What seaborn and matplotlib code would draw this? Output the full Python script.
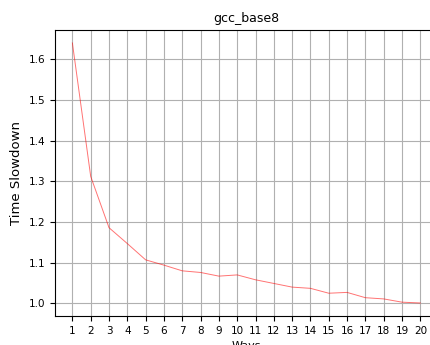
import pandas as pd
import matplotlib
matplotlib.use("Agg")
import matplotlib.pyplot as plt
import seaborn as sns

# dados
ways = list(range(1, 21))
slowdown = [1.640, 1.312, 1.186, 1.147, 1.107, 1.094, 1.080, 1.076, 1.067, 1.070,
            1.058, 1.049, 1.040, 1.037, 1.025, 1.027, 1.014, 1.011, 1.003, 1.001]

df = pd.DataFrame({"Ways": ways, "Time Slowdown": slowdown})

fig = plt.figure(figsize=(4.31, 3.45), dpi=100)
ax = fig.add_axes([0.1276, 0.0841, 0.888, 0.829])

sns.lineplot(data=df, x="Ways", y="Time Slowdown", ax=ax, color="red", alpha=0.55, linewidth=0.7)

ax.set_xticks(ways)
ax.tick_params(labelsize=7.5)
ax.grid(True, color="#b0b0b0", linewidth=0.8)
ax.set_title("gcc_base8", fontsize=9)
ax.set_xlabel("Ways", fontsize=8)
ax.set_ylabel("Time Slowdown", fontsize=9.5)

fig.savefig("out.png", dpi=100)
